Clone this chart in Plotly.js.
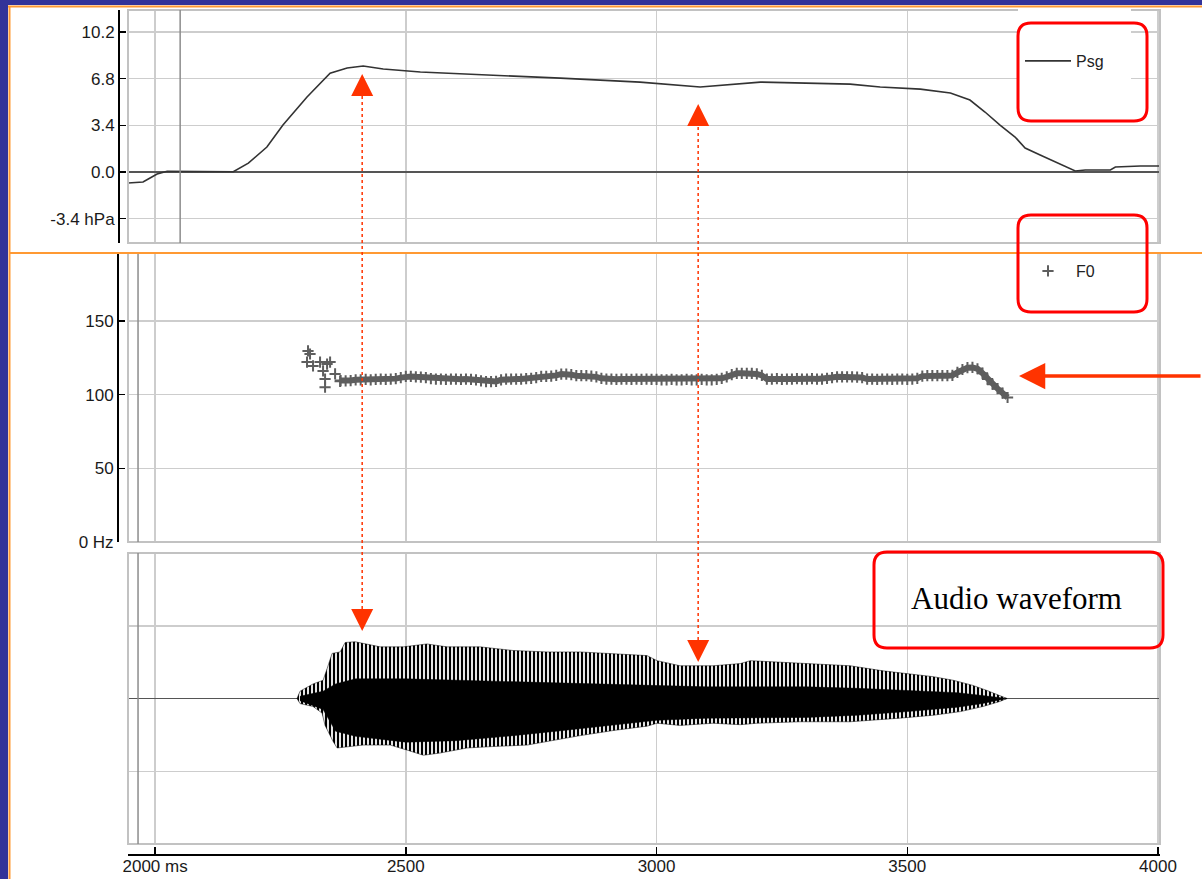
<!DOCTYPE html>
<html>
<head>
<meta charset="utf-8">
<script src="https://cdn.plot.ly/plotly-3.0.1.min.js"></script>
<style>
  html, body { margin: 0; padding: 0; background: #fff; }
  #canvas { width: 1202px; height: 879px; }
</style>
</head>
<body>
<div id="canvas"></div>
<script>
// subglottal pressure (hPa)
const psgTime = [1946, 1976, 1990, 2004, 2024, 2090, 2156, 2186, 2223, 2255, 2303, 2349, 2383, 2415, 2455,
    2529, 2688, 2808, 2967, 3087, 3207, 3300, 3386, 3446, 3526, 3586, 3625, 3655, 3685, 3715,
    3735, 3765, 3795, 3821, 3835, 3855, 3905, 3915, 3965, 4004];
const psgValue = [-0.80, -0.73, -0.44, -0.15, 0.05, 0.05, 0.02, 0.65, 1.82, 3.42, 5.46, 7.2, 7.57, 7.72, 7.5,
    7.28, 7.06, 6.84, 6.55, 6.19, 6.55, 6.5, 6.4, 6.19, 6.04, 5.75, 5.24, 4.37, 3.42, 2.55,
    1.75, 1.24, 0.73, 0.29, 0.07, 0.15, 0.15, 0.36, 0.44, 0.44];

// F0 track (Hz); the first 12 points are the scattered onset
const f0Time = [2305, 2309, 2303, 2315, 2329, 2343, 2349, 2335, 2339, 2339, 2359, 2369,
    2370, 2380, 2390, 2400, 2410, 2420, 2430, 2440, 2450, 2460, 2470, 2480, 2490,
    2500, 2510, 2520, 2530, 2540, 2550, 2560, 2570, 2580, 2590, 2600, 2610, 2620, 2630, 2640,
    2650, 2660, 2670, 2680, 2690, 2700, 2710, 2720, 2730, 2740, 2750, 2760, 2770, 2780, 2790,
    2800, 2810, 2820, 2830, 2840, 2850, 2860, 2870, 2880, 2890, 2900, 2910, 2920, 2930, 2940,
    2950, 2960, 2970, 2980, 2990, 3000, 3010, 3020, 3030, 3040, 3050, 3060, 3070, 3080, 3090,
    3100, 3110, 3120, 3130, 3140, 3150, 3160, 3170, 3180, 3190, 3200, 3210, 3220, 3230, 3240,
    3250, 3260, 3270, 3280, 3290, 3300, 3310, 3320, 3330, 3340, 3350, 3360, 3370, 3380, 3390,
    3400, 3410, 3420, 3430, 3440, 3450, 3460, 3470, 3480, 3490, 3500, 3510, 3520, 3530, 3540,
    3550, 3560, 3570, 3580, 3590, 3600, 3610, 3620, 3630, 3640, 3650, 3660, 3670, 3680, 3690, 3700];
const f0Hz = [129.6, 127.5, 122, 119.4, 122, 120.7, 122, 116, 110.5, 105, 114, 109,
    109.5, 109.3, 109.5, 110, 110, 110.3, 110, 110.3, 110.5, 110.3, 110.5, 110.8, 111.5,
    112.3, 112.3, 112, 111.8, 111.5, 110.8, 110.5, 110.5, 110.3, 110.5, 110.5, 110.3, 110.5, 110.3, 110,
    109.3, 108.7, 108.7, 108.9, 110, 110.5, 110.5, 110.5, 110.5, 110.8, 111, 111.5, 112.3, 112.3, 112.5,
    113, 113.9, 113.9, 113.5, 112.8, 112.8, 112.8, 112.5, 112, 111, 110.5, 110.5, 110.3, 110.5, 110.5,
    110.3, 110.5, 110.3, 110.5, 110.3, 110.3, 110, 110, 110.3, 110, 110, 110.3, 110, 110, 110.3,
    110, 110, 110.3, 111, 112, 113.5, 114.4, 114.4, 114.4, 114.4, 114, 113, 110.5, 110.5, 110.8,
    110.3, 110.5, 110.5, 110.8, 110.5, 110.5, 110.8, 110.5, 110.5, 111, 111.5, 112, 112, 112, 112,
    111.8, 111.5, 110.5, 110.5, 110.3, 110.5, 110.5, 110.3, 110.5, 110.5, 110.3, 110.5, 111, 112.5, 112.8,
    112.8, 112.8, 112.8, 112.8, 113, 115, 117, 118.2, 118.4, 117.5, 114.5, 110.5, 107, 104, 101, 98];
const f0Onset = 12;

// audio waveform envelope (outer peaks)
const waveTopTime = [2283, 2289, 2315, 2335, 2343, 2353, 2369, 2379, 2399, 2423, 2449, 2495, 2542, 2582, 2648,
    2714, 2782, 2848, 2914, 2981, 3001, 3047, 3113, 3167, 3187, 3252, 3320, 3386, 3452, 3500,
    3552, 3592, 3631, 3659, 3691, 3699];
const waveTop = [0, 0.1, 0.2, 0.25, 0.41, 0.62, 0.64, 0.77, 0.78, 0.75, 0.71, 0.71, 0.75, 0.71, 0.71,
    0.66, 0.64, 0.64, 0.62, 0.59, 0.52, 0.45, 0.45, 0.48, 0.52, 0.5, 0.48, 0.45, 0.38, 0.34,
    0.3, 0.25, 0.18, 0.11, 0.03, 0];
const waveBottomTime = [2283, 2289, 2315, 2333, 2339, 2355, 2363, 2415, 2469, 2503, 2535, 2568, 2622, 2674, 2742,
    2794, 2848, 2914, 2981, 3001, 3047, 3113, 3167, 3200, 3286, 3386, 3486, 3552, 3606, 3651, 3685, 3699];
const waveBottom = [0, -0.07, -0.11, -0.2, -0.37, -0.59, -0.68, -0.64, -0.64, -0.71, -0.78, -0.75, -0.68, -0.66, -0.64,
    -0.58, -0.51, -0.44, -0.38, -0.34, -0.37, -0.34, -0.36, -0.34, -0.32, -0.32, -0.27, -0.23, -0.18, -0.11, -0.04, 0];

// solid core of the waveform
const coreTime = [2289, 2335, 2360, 2400, 2500, 2600, 2700, 2800, 2900, 3000, 3100, 3200, 3300, 3400, 3500, 3600, 3650, 3699];
const coreTop = [0.03, 0.1, 0.2, 0.27, 0.27, 0.25, 0.23, 0.21, 0.19, 0.17, 0.16, 0.16, 0.16, 0.14, 0.11, 0.08, 0.04, 0];
const coreBottom = [-0.03, -0.15, -0.45, -0.52, -0.6, -0.58, -0.52, -0.45, -0.38, -0.3, -0.27, -0.27, -0.26, -0.23, -0.18, -0.12, -0.07, 0];

// axis ticks
const timeTicks = [2000, 2500, 3000, 3500, 4000];
const timeLabels = ["2000 ms", "2500", "3000", "3500", "4000"];
const psgTicks = [10.2, 6.8, 3.4, 0, -3.4];
const psgLabels = ["10.2", "6.8", "3.4", "0.0", "-3.4 hPa"];
const f0Ticks = [0, 50, 100, 150];
const f0Labels = ["0 Hz", "50", "100", "150"];

// arrows linking pressure to waveform
const linkTimes = [2413, 3083];

// page geometry (pixels)
const W = 1202, H = 879;
const pxX = (v) => v / W;
const pxY = (v) => 1 - v / H;

const plotLeft = 128, plotRight = 1160;
const topPanel = [10, 243];
const midPanel = [253, 542];
const lowPanel = [553, 844];

const FONT = "Liberation Sans, Arial, sans-serif";
const GRID = "#cdcdcd";
const RED = "#ff3300";
const F0_GRAY = "#5e5e5e";

function roundBox(x0, y0, x1, y1, r) {
    const X = (v) => pxX(v).toFixed(5);
    const Y = (v) => pxY(v).toFixed(5);
    return "M" + X(x0 + r) + "," + Y(y0) + " L" + X(x1 - r) + "," + Y(y0) +
        " Q" + X(x1) + "," + Y(y0) + " " + X(x1) + "," + Y(y0 + r) +
        " L" + X(x1) + "," + Y(y1 - r) +
        " Q" + X(x1) + "," + Y(y1) + " " + X(x1 - r) + "," + Y(y1) +
        " L" + X(x0 + r) + "," + Y(y1) +
        " Q" + X(x0) + "," + Y(y1) + " " + X(x0) + "," + Y(y1 - r) +
        " L" + X(x0) + "," + Y(y0 + r) +
        " Q" + X(x0) + "," + Y(y0) + " " + X(x0 + r) + "," + Y(y0) + " Z";
}

function frame(panel) {
    return {
        type: "rect", xref: "paper", yref: "paper", layer: "above",
        x0: pxX(plotLeft), x1: pxX(plotRight), y0: pxY(panel[1]), y1: pxY(panel[0]),
        line: { color: "#c2c2c2", width: 2 },
    };
}

function cursor(t, panel) {
    return {
        type: "line", xref: "x", yref: "paper", layer: "above",
        x0: t, x1: t, y0: pxY(panel[1]), y1: pxY(panel[0]),
        line: { color: "#8c8c8c", width: 1.5 },
    };
}

var getPlotData = () => [
    {
        x: psgTime, y: psgValue, yaxis: "y", name: "Psg", mode: "lines",
        line: { color: "#333", width: 1.6 }, legend: "legend", hoverinfo: "skip",
    },
    {
        // dense pitch marks merge into a band
        x: f0Time.slice(f0Onset), y: f0Hz.slice(f0Onset), yaxis: "y2", mode: "lines",
        line: { color: F0_GRAY, width: 6 }, showlegend: false, hoverinfo: "skip",
    },
    {
        x: f0Time, y: f0Hz, yaxis: "y2", name: "F0", mode: "markers",
        marker: { symbol: "cross-thin", size: 8, line: { color: F0_GRAY, width: 2 } },
        legend: "legend2", hoverinfo: "skip",
    },
    {
        x: waveTopTime.concat(waveBottomTime.slice().reverse()),
        y: waveTop.concat(waveBottom.slice().reverse()),
        yaxis: "y3", mode: "lines", fill: "toself", showlegend: false, hoverinfo: "skip",
        line: { color: "#000", width: 0.5 },
        fillcolor: "#fff",
        fillpattern: { shape: "|", fgcolor: "#000", bgcolor: "#fff", size: 4, solidity: 0.55 },
    },
    {
        x: coreTime.concat(coreTime.slice().reverse()),
        y: coreTop.concat(coreBottom.slice().reverse()),
        yaxis: "y3", mode: "lines", fill: "toself", showlegend: false, hoverinfo: "skip",
        line: { color: "#000", width: 0.5 }, fillcolor: "#000",
    },
];

var getPlotLayout = () => {
    let shapes = [
        // slide border
        { type: "rect", xref: "paper", yref: "paper", x0: 0, x1: pxX(8), y0: 0, y1: 1, fillcolor: "#333399", line: { width: 0 }, layer: "above" },
        { type: "rect", xref: "paper", yref: "paper", x0: 0, x1: 1, y0: pxY(5), y1: 1, fillcolor: "#333399", line: { width: 0 }, layer: "above" },
        { type: "line", xref: "paper", yref: "paper", x0: pxX(8), x1: 1, y0: pxY(6.5), y1: pxY(6.5), line: { color: "#ff9933", width: 2 }, layer: "above" },
        { type: "line", xref: "paper", yref: "paper", x0: pxX(9.5), x1: pxX(9.5), y0: 0, y1: pxY(6), line: { color: "#ff9933", width: 2 }, layer: "above" },
        // panel frames and cursors
        frame(topPanel), frame(midPanel), frame(lowPanel),
        cursor(2050, topPanel), cursor(1966, midPanel), cursor(1966, lowPanel),
        { type: "line", xref: "paper", yref: "paper", x0: pxX(9), x1: 1, y0: pxY(253), y1: pxY(253), line: { color: "#ff9933", width: 2 }, layer: "above" },
        // white patch behind the Psg legend
        { type: "rect", xref: "paper", yref: "paper", x0: pxX(1018), x1: pxX(1131), y0: pxY(120), y1: pxY(8), fillcolor: "#fff", line: { width: 0 }, layer: "above" },
        // red call-out boxes
        { type: "path", xref: "paper", yref: "paper", path: roundBox(1018, 23, 1147, 121, 13), line: { color: "#ff0000", width: 3 }, layer: "above" },
        { type: "path", xref: "paper", yref: "paper", path: roundBox(1018, 215, 1147, 312, 13), line: { color: "#ff0000", width: 3 }, layer: "above" },
        { type: "path", xref: "paper", yref: "paper", path: roundBox(874, 552, 1163, 648, 13), line: { color: "#ff0000", width: 3 }, layer: "above" },
    ];
    // dotted links
    linkTimes.forEach((t, i) => {
        let top = i == 0 ? 74 : 104;
        let bottom = i == 0 ? 631 : 662;
        shapes.push({
            type: "line", xref: "x", yref: "paper", x0: t, x1: t, y0: pxY(bottom - 10), y1: pxY(top + 10),
            line: { color: RED, width: 1.5, dash: "dot" }, layer: "above",
        });
    });

    let annotations = [
        {
            text: "Audio waveform", xref: "paper", yref: "paper", x: pxX(909), y: pxY(598),
            xanchor: "left", yanchor: "middle", showarrow: false,
            font: { family: "Liberation Serif, Times New Roman, serif", size: 31, color: "#000" },
        },
        {
            text: "", xref: "paper", yref: "paper", x: pxX(1019), y: pxY(376),
            showarrow: true, ax: 183, ay: 0, arrowhead: 2, arrowsize: 1.5, arrowwidth: 3.5, arrowcolor: RED,
        },
    ];
    linkTimes.forEach((t, i) => {
        let top = i == 0 ? 74 : 104;
        let bottom = i == 0 ? 631 : 662;
        annotations.push({ text: "", xref: "x", yref: "paper", x: t, y: pxY(top), showarrow: true, ax: 0, ay: 14, arrowhead: 2, arrowsize: 2.2, arrowwidth: 2, arrowcolor: RED });
        annotations.push({ text: "", xref: "x", yref: "paper", x: t, y: pxY(bottom), showarrow: true, ax: 0, ay: -14, arrowhead: 2, arrowsize: 2.2, arrowwidth: 2, arrowcolor: RED });
    });

    return {
        width: W, height: H,
        margin: { l: 0, r: 0, t: 0, b: 0 },
        paper_bgcolor: "#fff", plot_bgcolor: "rgba(0,0,0,0)",
        font: { family: FONT, size: 17, color: "#1a1a1a" },
        showlegend: true,
        xaxis: {
            domain: [pxX(plotLeft), pxX(plotRight)], range: [1946, 4004],
            anchor: "free", position: pxY(854),
            showline: true, linecolor: "#000", linewidth: 1.5,
            ticks: "inside", ticklen: 7, tickwidth: 1.5, tickcolor: "#000",
            tickvals: timeTicks, ticktext: timeLabels, tickfont: { size: 17 },
            ticklabelstandoff: -4,
            showgrid: true, gridcolor: GRID, gridwidth: 1.5, zeroline: false, fixedrange: true,
        },
        yaxis: {
            domain: [pxY(topPanel[1]), pxY(topPanel[0])], range: [-5.17, 11.8],
            anchor: "free", position: pxX(118),
            showline: true, linecolor: "#000", linewidth: 1.5,
            ticks: "inside", ticklen: 6, tickwidth: 1.5, tickcolor: "#000",
            tickvals: psgTicks, ticktext: psgLabels, tickfont: { size: 17 },
            showgrid: true, gridcolor: GRID, gridwidth: 1.5,
            zeroline: true, zerolinecolor: "#555", zerolinewidth: 1.5, fixedrange: true,
        },
        yaxis2: {
            domain: [pxY(midPanel[1]), pxY(midPanel[0])], range: [0, 196],
            anchor: "free", position: pxX(117),
            showline: true, linecolor: "#000", linewidth: 1.5,
            ticks: "inside", ticklen: 6, tickwidth: 1.5, tickcolor: "#000",
            tickvals: f0Ticks, ticktext: f0Labels, tickfont: { size: 17 },
            showgrid: true, gridcolor: GRID, gridwidth: 1.5, zeroline: false, fixedrange: true,
        },
        yaxis3: {
            domain: [pxY(lowPanel[1]), pxY(lowPanel[0])], range: [-2, 2],
            anchor: "free", position: pxX(plotLeft),
            showline: false, ticks: "", showticklabels: false,
            tickvals: [-1, 0, 1],
            showgrid: true, gridcolor: GRID, gridwidth: 1.5,
            zeroline: true, zerolinecolor: "#555", zerolinewidth: 1.5, fixedrange: true,
        },
        legend: {
            x: pxX(1020), y: pxY(44), xanchor: "left", yanchor: "top",
            bgcolor: "rgba(255,255,255,0)", borderwidth: 0, itemwidth: 46,
            font: { family: FONT, size: 16, color: "#222" },
        },
        legend2: {
            x: pxX(1020), y: pxY(254), xanchor: "left", yanchor: "top",
            bgcolor: "rgba(255,255,255,0)", borderwidth: 0, itemwidth: 46,
            font: { family: FONT, size: 16, color: "#222" },
        },
        shapes: shapes,
        annotations: annotations,
    };
};

function drawPlot() {
    Plotly.newPlot("canvas", getPlotData(), getPlotLayout(), { displayModeBar: false, staticPlot: true });
}

drawPlot();
</script>
</body>
</html>
